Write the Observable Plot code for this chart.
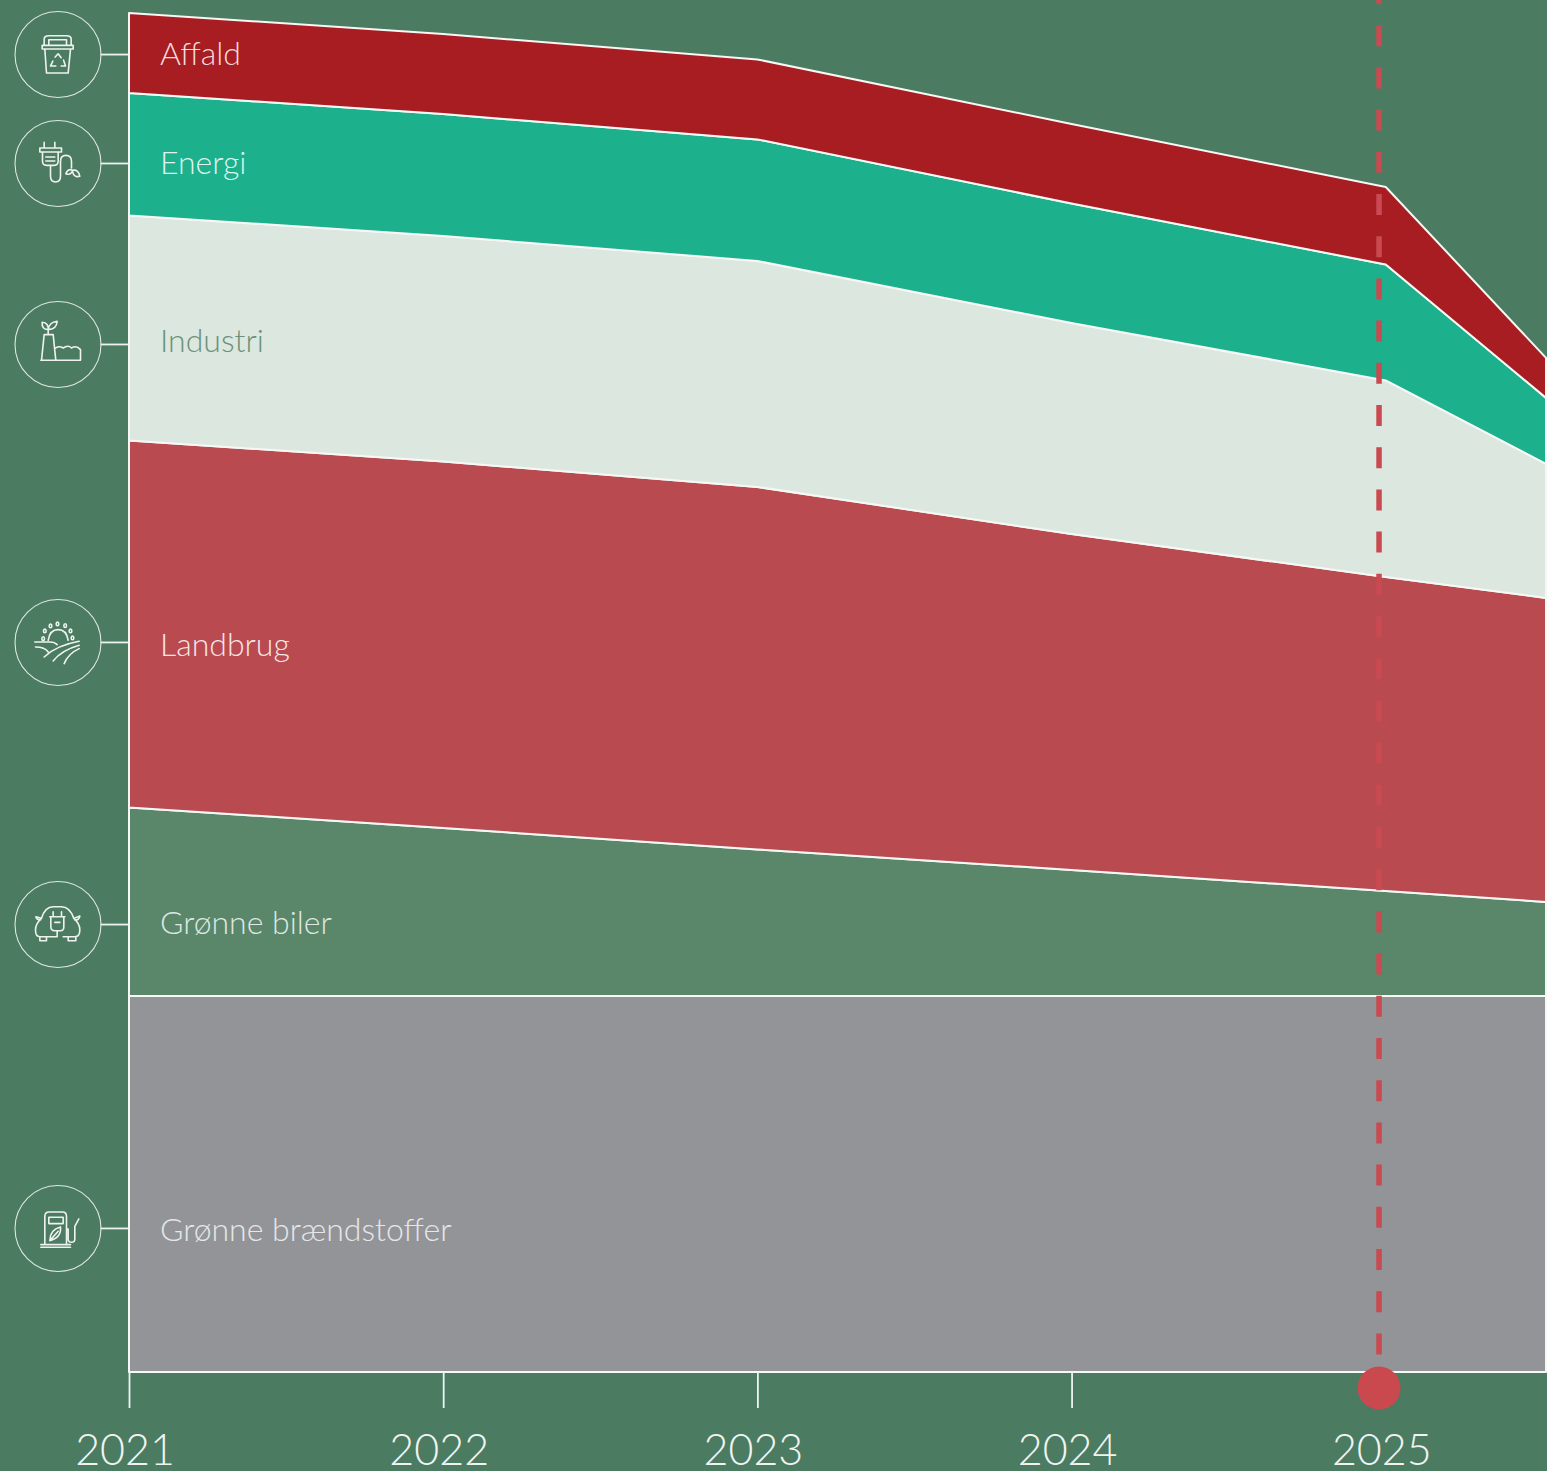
<!DOCTYPE html>
<html lang="da">
<head>
<meta charset="utf-8">
<title>Grøn omstilling</title>
<script src="https://cdn.jsdelivr.net/npm/d3@7"></script>
<script src="https://cdn.jsdelivr.net/npm/@observablehq/plot@0.6"></script>
<style>
html,body{margin:0;padding:0;background:#4b7b61;overflow:hidden}
svg{display:block}
</style>
</head>
<body>
<div id="chart"></div>
<script>
const years = [2021, 2022, 2023, 2024, 2025];
const xPoints = [2021, 2022, 2023, 2024, 2025, 2025.51];
const markerYear = 2024.977;

const gronneBraendstoffer = [27.41, 27.41, 27.41, 27.41, 27.41, 27.41];
const gronneBiler = [13.74, 12.24, 10.68, 9.18, 7.64, 6.85];
const landbrug = [26.75, 26.71, 26.42, 24.49, 22.90, 22.16];
const industri = [16.40, 16.44, 16.47, 15.38, 14.32, 9.77];
const energi = [8.93, 8.89, 8.86, 8.71, 8.45, 4.81];
const affald = [5.83, 5.83, 5.83, 5.79, 5.65, 2.92];

const seriesNames = ["Grønne brændstoffer", "Grønne biler", "Landbrug", "Industri", "Energi", "Affald"];
const seriesValues = [gronneBraendstoffer, gronneBiler, landbrug, industri, energi, affald];
const seriesColors = ["#939498", "#5a866a", "#b94a4f", "#dce7df", "#1cb08c", "#a81d22"];
const labelColors = ["#e6e7e8", "#dfe8e2", "#f6e6e6", "#6b917b", "#dff3ec", "#f3dcdc"];
const iconLevels = [10.5, 32.65, 53.21, 74.93, 88.12, 96.06];
const labelLevels = [10.35, 32.72, 52.99, 75.14, 88.12, 96.03];

const rows = seriesNames.flatMap((name, s) =>
  xPoints.map((year, i) => ({name, year, value: seriesValues[s][i]})));
const labels = seriesNames.map((name, i) => ({name, level: iconLevels[i], textLevel: labelLevels[i], color: labelColors[i]}));

function seeds(list) {
  return list.map(([x, y]) => `M${x - 4},${y}a4,5.5 0 1,0 8,0a4,5.5 0 1,0 -8,0`).join("");
}
// Line icons, one per category, in 3x local units around their circle centre
const iconPaths = {
  "Affald": {c: [173, 163], d: "M127,137H220V148H127ZM133,137V118Q133,108 147,108H200Q214,108 214,118V137M147,137V120H200V137M135,148L140,220H205L212,148M166,172L175,162L184,174M191,181L197,199H184M168,199H152L159,184"},
  "Energi": {c: [173, 490], d: "M133,428V445M165,428V445M120,445H185V457H120ZM128,457V485Q128,497 140,497H163Q175,497 175,485V457M138,472H165M138,484H165M152,497V530Q152,547 167,547Q182,547 182,530V485Q182,467 198,467Q215,467 215,485V505M198,522Q205,505 218,512Q215,528 198,522M218,512Q235,508 240,530Q222,535 218,515"},
  "Industri": {c: [173, 1033], d: "M125,1082L133,1005H160L168,1082M123,1082H242V1050Q230,1036 215,1045Q205,1035 190,1045Q178,1038 168,1045M145,1005V985M145,990Q125,990 127,968Q147,970 145,990M145,990Q170,990 172,965Q148,968 145,990"},
  "Landbrug": {c: [173, 155], d: "M145,150Q150,118 175,118Q200,118 205,150M105,155H150Q165,155 172,163M107,170Q135,170 145,185M133,200Q170,165 238,153M160,212Q185,180 238,165M193,220Q205,190 238,175" + seeds([[130, 145], [135, 122], [152, 107], [173, 101], [196, 106], [212, 122], [218, 143]])},
  "Grønne biler": {c: [173, 1002], d: "M170,1040H120Q107,1040 107,1020Q107,1000 125,985Q135,950 160,950H185Q210,950 222,985Q240,1000 240,1020Q240,1040 225,1040H190M120,1040V1052H140V1040M205,1040V1052H228V1040M125,985L108,980Q110,990 122,990M222,985L240,978Q238,990 225,990M160,965V980M185,965V980M150,980H195M153,980V1010Q153,1022 165,1022H182Q192,1022 192,1010V980M172,1022V1040M165,997H180"},
  "Grønne brændstoffer": {c: [173, 175], d: "M135,225V140Q135,127 148,127H188Q200,127 200,140V225M147,143H190V162H147ZM123,225H212M123,233H212M150,213Q150,180 182,172Q185,205 150,213M150,213L175,185M200,178H205V208Q205,218 215,218Q225,218 225,208V170L237,148"}
};

function iconMark(index, scales) {
  const g = d3.create("svg:g").attr("fill", "none").attr("stroke", "#eef3ef").attr("stroke-linejoin", "round").attr("stroke-linecap", "round");
  for (const l of labels) {
    const icon = iconPaths[l.name];
    g.append("path")
      .attr("d", icon.d)
      .attr("stroke-width", 4.8)
      .attr("transform", `translate(${scales.x(2021) - 71.5},${scales.y(l.level)}) scale(${1 / 3}) translate(${-icon.c[0]},${-icon.c[1]})`);
  }
  return g.node();
}

const chart = Plot.plot({
  width: 1547,
  height: 1471,
  marginLeft: 129,
  marginRight: 1,
  marginTop: 0,
  marginBottom: 99,
  style: {background: "transparent", fontFamily: "Lato"},
  x: {domain: [2021, 2025.51], axis: null},
  y: {domain: [0, 100], axis: null},
  color: {domain: seriesNames, range: seriesColors},
  marks: [
    Plot.areaY(rows, {
      x: "year", y: "value", z: "name", fill: "name",
      stroke: "#f6f8f6", strokeWidth: 2, order: null
    }),
    Plot.axisX(years, {anchor: "bottom", tickSize: 36, strokeWidth: 1.8, stroke: "#f0f3f0", tickFormat: () => null, label: null}),
    Plot.axisX(years, {
      anchor: "bottom", tickSize: 0, tickPadding: 62, dx: -4.5, tickFormat: "d", label: null,
      fontSize: 43, fontWeight: 300, fontVariant: "normal", fill: "#f0f4f1", lineAnchor: "top"
    }),
    Plot.ruleY(labels, {x1: 2020.909, x2: 2021, y: "level", stroke: "#eef2ef", strokeWidth: 1.8}),
    Plot.dot(labels, {x: () => 2021, y: "level", dx: -71.5, r: 43, stroke: "#dfe8e2", strokeWidth: 1.1, fill: "none"}),
    iconMark,
    Plot.text(labels, {
      x: () => 2021, y: "textLevel", dx: 30.5, text: "name", textAnchor: "start",
      fill: "color", fontSize: 32, fontWeight: 300, fontFamily: "Lato"
    }),
    Plot.ruleX([markerYear], {
      y1: 100, y2: 1.17, stroke: "#c94a50", strokeWidth: 5.5,
      strokeDasharray: "21,21.2", strokeDashoffset: 17
    }),
    Plot.dot([markerYear], {x: d => d, y: () => -1.13, r: 21.5, fill: "#c9494f", stroke: "none"})
  ]
});
document.getElementById("chart").append(chart);
</script>
</body>
</html>
